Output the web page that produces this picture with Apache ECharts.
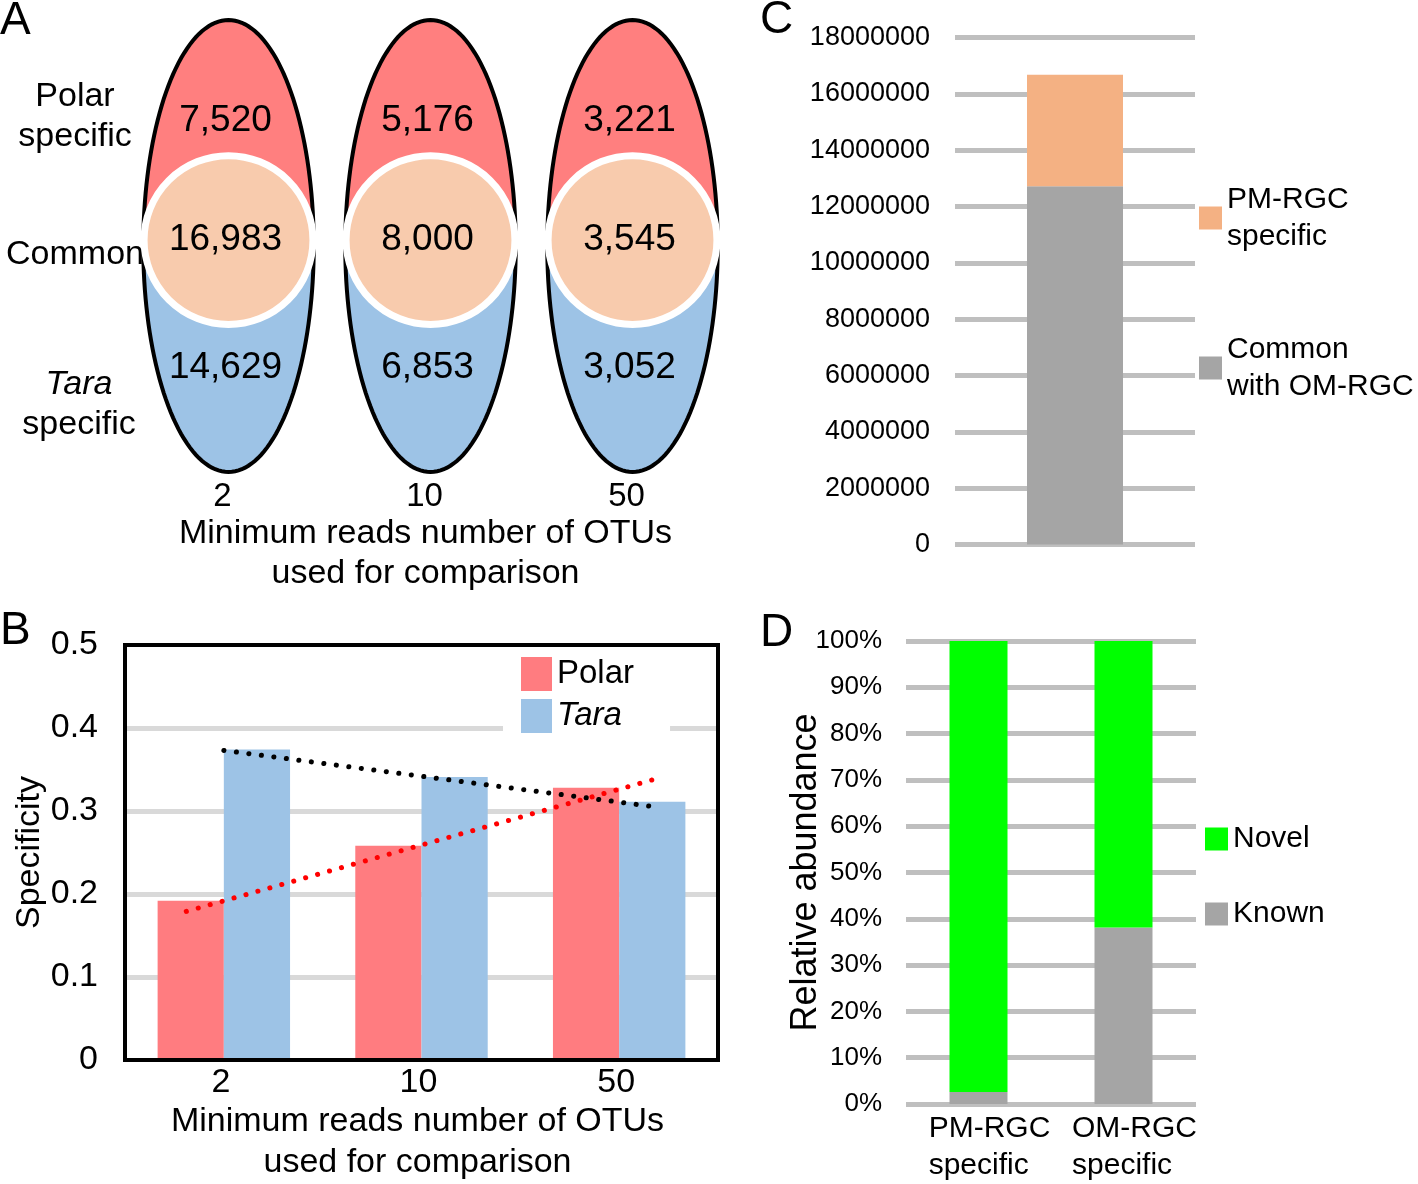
<!DOCTYPE html>
<html>
<head>
<meta charset="utf-8">
<script src="https://cdn.jsdelivr.net/npm/echarts@6/dist/echarts.min.js"></script>
<style>html,body{margin:0;padding:0;background:#fff}#c{width:1418px;height:1184px}</style>
</head>
<body>
<div id="c"></div>
<script>
// ---- Panel A: OTU counts ----
const vennCats = ['2', '10', '50'];
const polarSpecific = [7520, 5176, 3221];
const commonOTU = [16983, 8000, 3545];
const taraSpecific = [14629, 6853, 3052];
// ---- Panel B: specificity ----
const specCats = ['2', '10', '50'];
const polarSpecificity = [0.192, 0.258, 0.328];
const taraSpecificity = [0.374, 0.341, 0.311];
// trend line end points, x in category-index units (0..3)
const polarTrend = [[0.31, 0.179], [2.69, 0.339]];
const taraTrend = [[0.5, 0.373], [2.65, 0.306]];
// ---- Panel C: gene counts ----
const geneCats = ['PM-RGC'];
const commonGenes = [12720000];
const pmSpecificGenes = [3960000];
// ---- Panel D: relative abundance ----
const abundCats = ['PM-RGC\nspecific', 'OM-RGC\nspecific'];
const knownFrac = [0.026, 0.381];
const novelFrac = [0.974, 0.619];

// font detection
function hasFont(fam) {
  const ctx = document.createElement('canvas').getContext('2d');
  ctx.font = '40px monospace';
  const b = ctx.measureText('MMMMiiiiWW').width;
  ctx.font = "40px '" + fam + "', monospace";
  return ctx.measureText('MMMMiiiiWW').width !== b;
}
const NARROW = hasFont('Liberation Sans Narrow');
const FONT = NARROW ? 'Liberation Sans Narrow' : 'Liberation Sans';
const K = NARROW ? 1 / 0.83 : 1;
const S = px => Math.round(px * K);

function renderVenn(params, api) {
  const i = api.value(0);
  const top = api.coord([i, 1]);
  const bot = api.coord([i, 0]);
  const cx = top[0];
  const band = api.size([1, 0])[0];
  const rx = band * 0.422;
  const cy = (top[1] + bot[1]) / 2;
  const ry = (bot[1] - top[1]) / 2 - 2;
  const full = [], upper = [];
  for (let k = 0; k <= 160; k++) {
    const t = 2 * Math.PI * k / 160;
    full.push([cx + rx * Math.cos(t), cy + ry * Math.sin(t)]);
  }
  for (let k = 0; k <= 80; k++) {
    const t = Math.PI + Math.PI * k / 80;
    upper.push([cx + rx * Math.cos(t), cy + ry * Math.sin(t)]);
  }
  const cc = api.coord([i, 0.513]);
  const r = band * 0.418;
  const txt = (v, yv) => ({
    type: 'text', x: cx - 3, y: api.coord([i, yv])[1],
    style: { text: v.toLocaleString('en-US'), fontSize: S(37), fontFamily: FONT, fill: '#000', align: 'center', verticalAlign: 'middle' }
  });
  return {
    type: 'group', children: [
      { type: 'polygon', shape: { points: full }, style: { fill: '#9dc3e6' } },
      { type: 'polygon', shape: { points: upper }, style: { fill: '#ff7f7f' } },
      { type: 'polygon', shape: { points: full }, style: { fill: 'none', stroke: '#000', lineWidth: 4 } },
      { type: 'circle', shape: { cx: cc[0], cy: cc[1], r: r }, style: { fill: '#f8cbad', stroke: '#fff', lineWidth: 7 } },
      txt(api.value(1), 0.775), txt(api.value(2), 0.513), txt(api.value(3), 0.232)
    ]
  };
}

const black = '#000';
const xName = 'Minimum reads number of OTUs\nused for comparison';

const option = {
  animation: false,
  textStyle: { fontFamily: FONT, color: black },
  grid: [
    { left: 127.5, top: 18, width: 606, height: 456 },
    { left: 125, top: 645, width: 593, height: 415, show: true, borderColor: black, borderWidth: 4, z: 5 },
    { left: 955, top: 37.5, width: 240, height: 507 },
    { left: 906, top: 641, width: 290, height: 467 }
  ],
  xAxis: [
    { type: 'category', gridIndex: 0, data: vennCats, axisLine: { show: false }, axisTick: { show: false },
      axisLabel: { fontSize: S(33), color: black, margin: 6, fontFamily: FONT, padding: [0, 12, 0, 0] },
      name: xName, nameLocation: 'middle', nameGap: 32,
      nameTextStyle: { fontSize: S(33.6), lineHeight: 40, color: black, fontFamily: FONT, padding: [0, 10, 0, 0] } },
    { type: 'category', gridIndex: 1, data: specCats, axisLine: { show: false }, axisTick: { show: false },
      axisLabel: { fontSize: S(34), color: black, margin: 6, fontFamily: FONT, padding: [0, 6, 0, 0] },
      name: xName, nameLocation: 'middle', nameGap: 32,
      nameTextStyle: { fontSize: S(33.6), lineHeight: 41, color: black, fontFamily: FONT, padding: [0, 8, 0, 0] } },
    { type: 'value', gridIndex: 1, min: 0, max: 3, show: false },
    { type: 'category', gridIndex: 2, data: geneCats, show: false },
    { type: 'category', gridIndex: 3, data: abundCats, axisLine: { show: false }, axisTick: { show: false },
      axisLabel: { interval: 0, fontSize: S(30), lineHeight: 37, color: black, margin: 6, padding: [0, 0, 0, 22], fontFamily: FONT,
        formatter: v => v.split('\n').map(s => '{a|' + s + '}').join('\n'),
        rich: { a: { align: 'left', fontSize: S(30), lineHeight: 37, fontFamily: FONT, color: black } } } }
  ],
  yAxis: [
    { type: 'value', gridIndex: 0, min: 0, max: 1, show: false },
    { type: 'value', gridIndex: 1, min: 0, max: 0.5, interval: 0.1,
      axisLine: { show: false }, axisTick: { show: false },
      axisLabel: { fontSize: S(34), color: black, margin: 27, fontFamily: FONT, formatter: v => v === 0 ? '0' : v.toFixed(1) },
      splitLine: { show: true, showMinLine: false, showMaxLine: false, lineStyle: { color: '#d9d9d9', width: 5 } },
      name: 'Specificity', nameLocation: 'middle', nameRotate: 90, nameGap: 78, nameMoveOverlap: false,
      nameTextStyle: { fontSize: S(34), color: black, fontFamily: FONT } },
    { type: 'value', gridIndex: 2, min: 0, max: 18000000, interval: 2000000,
      axisLine: { show: false }, axisTick: { show: false },
      axisLabel: { fontSize: S(27), color: black, margin: 25, fontFamily: FONT, formatter: v => String(v) },
      splitLine: { show: true, lineStyle: { color: '#bfbfbf', width: 5 } } },
    { type: 'value', gridIndex: 3, min: 0, max: 1, interval: 0.1,
      axisLine: { show: false }, axisTick: { show: false },
      axisLabel: { fontSize: S(26), color: black, margin: 24, fontFamily: FONT, formatter: v => Math.round(v * 100) + '%' },
      splitLine: { show: true, lineStyle: { color: '#bfbfbf', width: 5 } },
      name: 'Relative abundance', nameLocation: 'middle', nameRotate: 90, nameGap: 82, nameMoveOverlap: false,
      nameTextStyle: { fontSize: S(36), color: black, fontFamily: FONT } }
  ],
  legend: [
    { data: ['Polar', 'Tara'], orient: 'vertical', left: 503, top: 650, itemWidth: 31, itemHeight: 34, itemGap: 8,
      padding: [7, 36, 7, 18], backgroundColor: '#fff', icon: 'rect', selectedMode: false,
      formatter: n => n === 'Tara' ? '{i|Tara}' : n,
      textStyle: { fontSize: S(33), color: black, fontFamily: FONT,
        rich: { i: { fontStyle: 'italic', fontSize: S(33), fontFamily: FONT, color: black } } } },
    { data: ['PM-RGC\nspecific', 'Common\nwith OM-RGC'], orient: 'vertical', left: 1199, top: 181,
      itemWidth: 23, itemHeight: 23, itemGap: 76, padding: 0, icon: 'rect', selectedMode: false,
      textStyle: { fontSize: S(30), lineHeight: 37, color: black, fontFamily: FONT } },
    { data: ['Novel', 'Known'], orient: 'vertical', left: 1205, top: 821,
      itemWidth: 23, itemHeight: 23, itemGap: 39, padding: 0, icon: 'rect', selectedMode: false,
      textStyle: { fontSize: S(30), lineHeight: 36, color: black, fontFamily: FONT } }
  ],
  series: [
    { type: 'custom', name: 'venn', xAxisIndex: 0, yAxisIndex: 0,
      data: vennCats.map((c, i) => [i, polarSpecific[i], commonOTU[i], taraSpecific[i]]),
      renderItem: renderVenn },
    { type: 'bar', name: 'Polar', xAxisIndex: 1, yAxisIndex: 1, data: polarSpecificity,
      barGap: '0%', barCategoryGap: '33%', itemStyle: { color: '#ff7c80' } },
    { type: 'bar', name: 'Tara', xAxisIndex: 1, yAxisIndex: 1, data: taraSpecificity,
      barGap: '0%', barCategoryGap: '33%', itemStyle: { color: '#9dc3e6' } },
    { type: 'line', name: 'Tara trend', xAxisIndex: 2, yAxisIndex: 1, data: taraTrend, symbol: 'none', z: 3,
      lineStyle: { color: '#000', width: 5, type: [0.1, 12.5], cap: 'round' } },
    { type: 'line', name: 'Polar trend', xAxisIndex: 2, yAxisIndex: 1, data: polarTrend, symbol: 'none', z: 3,
      lineStyle: { color: '#ff0000', width: 5, type: [0.1, 12.3], cap: 'round' } },
    { type: 'bar', name: 'Common\nwith OM-RGC', xAxisIndex: 3, yAxisIndex: 2, stack: 'genes', data: commonGenes,
      barWidth: 96, itemStyle: { color: '#a5a5a5' } },
    { type: 'bar', name: 'PM-RGC\nspecific', xAxisIndex: 3, yAxisIndex: 2, stack: 'genes', data: pmSpecificGenes,
      barWidth: 96, itemStyle: { color: '#f4b183' } },
    { type: 'bar', name: 'Known', xAxisIndex: 4, yAxisIndex: 3, stack: 'abund', data: knownFrac,
      barWidth: 58, itemStyle: { color: '#a5a5a5' } },
    { type: 'bar', name: 'Novel', xAxisIndex: 4, yAxisIndex: 3, stack: 'abund', data: novelFrac,
      barWidth: 58, itemStyle: { color: '#00ff00' } }
  ],
  graphic: [
    { type: 'text', x: 0, y: 21, style: { text: 'A', fontSize: S(46), fontFamily: FONT, fill: black, align: 'left', verticalAlign: 'middle' } },
    { type: 'text', x: 0, y: 631, style: { text: 'B', fontSize: S(46), fontFamily: FONT, fill: black, align: 'left', verticalAlign: 'middle' } },
    { type: 'text', x: 760, y: 20, style: { text: 'C', fontSize: S(46), fontFamily: FONT, fill: black, align: 'left', verticalAlign: 'middle' } },
    { type: 'text', x: 760, y: 633, style: { text: 'D', fontSize: S(46), fontFamily: FONT, fill: black, align: 'left', verticalAlign: 'middle' } },
    { type: 'text', x: 75, y: 117, style: { text: 'Polar\nspecific', fontSize: S(34), lineHeight: 40, fontFamily: FONT, fill: black, align: 'center', verticalAlign: 'middle' } },
    { type: 'text', x: 75, y: 255, style: { text: 'Common', fontSize: S(34), fontFamily: FONT, fill: black, align: 'center', verticalAlign: 'middle' } },
    { type: 'text', x: 79, y: 405, style: { text: '{i|Tara}\nspecific', fontSize: S(34), lineHeight: 40, fontFamily: FONT, fill: black, align: 'center', verticalAlign: 'middle',
        rich: { i: { fontStyle: 'italic', fontSize: S(34), lineHeight: 40, fontFamily: FONT, fill: black } } } }
  ]
};

const chart = echarts.init(document.getElementById('c'), null, { renderer: 'canvas' });
chart.setOption(option);
</script>
</body>
</html>
